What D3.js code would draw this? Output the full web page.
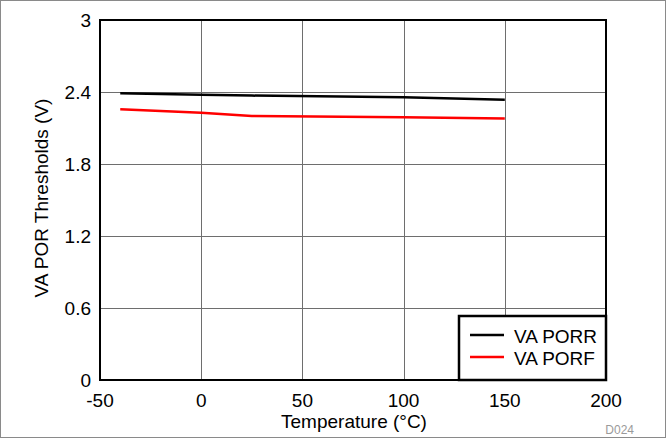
<!DOCTYPE html>
<html><head><meta charset="utf-8">
<script src="https://cdn.jsdelivr.net/npm/d3@7"></script>
<style>body{margin:0;background:#fff}svg{display:block}text{font-family:"Liberation Sans",Arial,sans-serif}</style>
</head><body>
<svg id="c" width="666" height="438"></svg>
<script>
const xTicks = [-50, 0, 50, 100, 150, 200];
const yTicks = [0, 0.6, 1.2, 1.8, 2.4, 3];
const temps = [-40, 0, 25, 100, 150];
const porr = [2.39, 2.378, 2.37, 2.356, 2.335];
const porf = [2.256, 2.228, 2.2, 2.19, 2.18];
const seriesNames = ["VA PORR", "VA PORF"];
const seriesColors = ["#000000", "#ff0000"];

const svg = d3.select("#c");
const L = 100, R = 606, T = 20, B = 380;
const FS = 19;
const x = d3.scaleLinear().domain([-50, 200]).range([L, R]);
const y = d3.scaleLinear().domain([0, 3]).range([B, T]);

svg.append("rect").attr("x", 0.5).attr("y", 0.5).attr("width", 665).attr("height", 437)
  .attr("fill", "none").attr("stroke", "#8a8a8a").attr("stroke-width", 1);

// grid
svg.append("g").selectAll("line").data(xTicks.slice(1, -1)).join("line")
  .attr("x1", d => Math.round(x(d)) + 0.5).attr("x2", d => Math.round(x(d)) + 0.5)
  .attr("y1", T).attr("y2", B).attr("stroke", "#6e6e6e").attr("stroke-width", 1);
svg.append("g").selectAll("line").data(yTicks.slice(1, -1)).join("line")
  .attr("y1", d => Math.round(y(d)) + 0.5).attr("y2", d => Math.round(y(d)) + 0.5)
  .attr("x1", L).attr("x2", R).attr("stroke", "#6e6e6e").attr("stroke-width", 1);

// lines
const data = [porr, porf];
const line = d3.line().x((d, i) => x(temps[i])).y(d => y(d));
data.forEach((s, k) => {
  svg.append("path").datum(s).attr("d", line).attr("fill", "none")
    .attr("stroke", seriesColors[k]).attr("stroke-width", 2.5);
});

// frame
svg.append("rect").attr("x", L).attr("y", T).attr("width", R - L).attr("height", B - T)
  .attr("fill", "none").attr("stroke", "#000").attr("stroke-width", 2);

// tick labels
svg.append("g").selectAll("text").data(yTicks).join("text")
  .attr("x", L - 9).attr("y", d => y(d) + 6.5).attr("text-anchor", "end")
  .attr("font-size", FS).attr("fill", "#000").text(d => d3.format("")(d));
svg.append("g").selectAll("text").data(xTicks).join("text")
  .attr("x", d => x(d)).attr("y", B + 27).attr("text-anchor", "middle")
  .attr("font-size", FS).attr("fill", "#000").text(d => d);

// axis titles
svg.append("text").attr("x", 354).attr("y", 428).attr("text-anchor", "middle")
  .attr("font-size", FS).text("Temperature (°C)");
svg.append("text").attr("transform", `translate(48,198) rotate(-90)`)
  .attr("text-anchor", "middle").attr("font-size", FS).text("VA POR Thresholds (V)");

// legend
const lg = svg.append("g");
lg.append("rect").attr("x", 459).attr("y", 316).attr("width", R - 459).attr("height", B - 316)
  .attr("fill", "#fff").attr("stroke", "#000").attr("stroke-width", 2.5);
seriesNames.forEach((n, k) => {
  const yy = 335 + k * 22;
  lg.append("line").attr("x1", 470).attr("x2", 504).attr("y1", yy).attr("y2", yy)
    .attr("stroke", seriesColors[k]).attr("stroke-width", 2.5);
  lg.append("text").attr("x", 514).attr("y", yy + 8).attr("font-size", FS).text(n);
});

svg.append("text").attr("x", 634).attr("y", 434).attr("text-anchor", "end")
  .attr("font-size", 12).attr("fill", "#9a9a9a").text("D024");
</script>
</body></html>
